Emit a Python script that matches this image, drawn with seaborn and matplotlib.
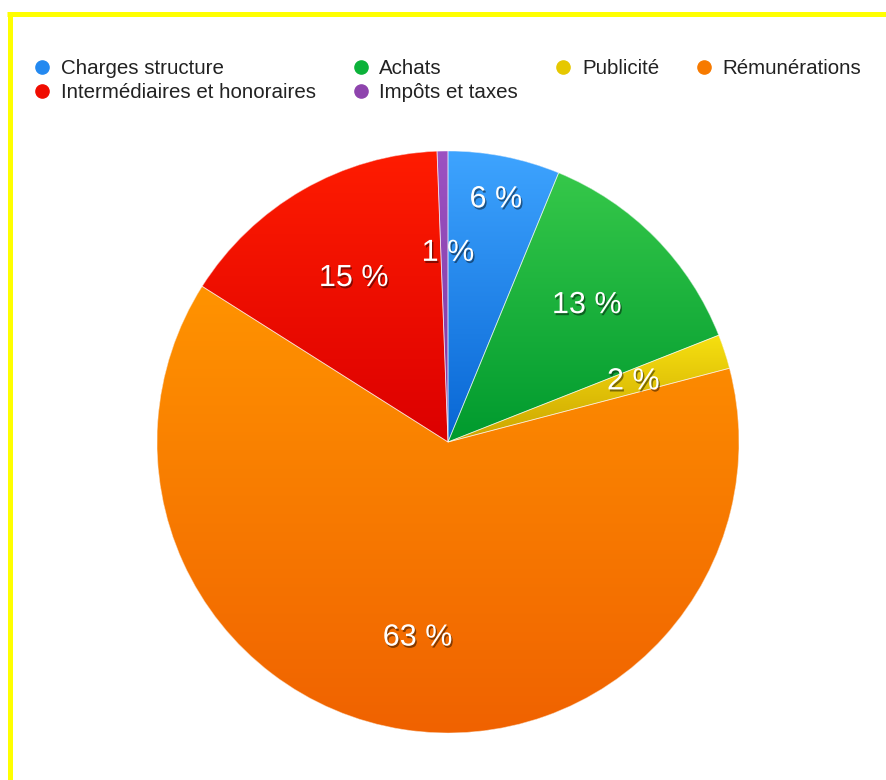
import numpy as np
import matplotlib
matplotlib.use("Agg")
import matplotlib.pyplot as plt
import matplotlib.patheffects as pe
from matplotlib.lines import Line2D
import seaborn as sns

# ---- data ----
categories = ["Charges structure", "Achats", "Publicité", "Rémunérations",
              "Intermédiaires et honoraires", "Impôts et taxes"]
values = [6.2, 12.8, 1.9, 63.0, 15.4, 0.6]
pct_labels = ["6 %", "13 %", "2 %", "63 %", "15 %", "1 %"]
colors_mid = ["#2389F0", "#0CB23A", "#E6C800", "#F77A00", "#F00C00", "#8E44AD"]
colors_top = ["#3EA4FF", "#36C84A", "#F6E010", "#FF9300", "#FF1C00", "#9C52C2"]
colors_bot = ["#0866D4", "#009A2E", "#CCA400", "#F06200", "#DC0000", "#7C38A0"]
legend_order = [0, 4, 1, 5, 2, 3]

sns.set_theme(style="white")
plt.rcParams["font.family"] = ["Liberation Sans", "DejaVu Sans"]

W, H = 886, 780
fig = plt.figure(figsize=(W / 100, H / 100), dpi=100)
fig.patch.set_facecolor("white")

# pie axes
cx, cy, R = 448, 442, 291
ax = fig.add_axes([(cx - R) / W, (H - cy - R) / H, 2 * R / W, 2 * R / H])
wedges, _ = ax.pie(values, colors=colors_mid, startangle=90, counterclock=False,
                   radius=1.0,
                   wedgeprops=dict(linewidth=0.6, edgecolor=(1, 1, 1, 0.6)))

# vertical gradient per wedge
for w, ct, cb in zip(wedges, colors_top, colors_bot):
    ext = w.get_path().get_extents()
    t = np.array(matplotlib.colors.to_rgb(ct))
    b = np.array(matplotlib.colors.to_rgb(cb))
    n = 256
    f = np.linspace(0, 1, n)[:, None]
    grad = (t * (1 - f) + b * f)[:, None, :]
    im = ax.imshow(grad, extent=(ext.x0, ext.x1, ext.y0, ext.y1), origin="upper",
                   aspect="auto", interpolation="bilinear", zorder=w.get_zorder() + 0.1)
    im.set_clip_path(w)
    edge = matplotlib.patches.Wedge(w.center, w.r, w.theta1, w.theta2, fill=False,
                                    edgecolor=(1, 1, 1, 0.55), linewidth=0.6,
                                    zorder=w.get_zorder() + 0.2)
    ax.add_patch(edge)

ax.set_xlim(-1, 1)
ax.set_ylim(-1, 1)
ax.set_aspect("equal")
ax.axis("off")

# percentage labels
dists = [0.85, 0.67, 0.67, 0.68, 0.65, 0.65]
for w, lab, d in zip(wedges, pct_labels, dists):
    ang = np.deg2rad((w.theta1 + w.theta2) / 2)
    x, y = d * np.cos(ang), d * np.sin(ang)
    if lab == "1 %":
        x = 0.0
    ax.text(x, y, lab, ha="center", va="center", color="white", fontsize=22,
            zorder=10,
            path_effects=[pe.withSimplePatchShadow(offset=(1, -1.5), shadow_rgbFace="black",
                                                    alpha=0.45)])

# legend
handles = [Line2D([], [], marker="o", linestyle="", markersize=9.5,
                  markerfacecolor=colors_mid[i], markeredgecolor=colors_mid[i])
           for i in legend_order]
labels = [categories[i] for i in legend_order]
leg = fig.legend(handles, labels, ncol=4, loc="upper left",
                 bbox_to_anchor=(34 / W, 1 - 59 / H), frameon=False,
                 fontsize=14.8, handlelength=0.8, handletextpad=0.5,
                 columnspacing=1.8, labelspacing=0.24, borderpad=0, borderaxespad=0)
for t in leg.get_texts():
    t.set_color("#222222")

# yellow frame (left and top edges)
lw = 5 * 72 / 100
fig.add_artist(Line2D([9.5 / W, 9.5 / W], [0, 1 - 12 / H], color="#FFFF00", linewidth=lw,
                      transform=fig.transFigure, solid_capstyle="butt"))
fig.add_artist(Line2D([7 / W, 1], [1 - 14 / H, 1 - 14 / H], color="#FFFF00", linewidth=lw,
                      transform=fig.transFigure, solid_capstyle="butt"))

fig.savefig("out.png", dpi=100, facecolor="white")
